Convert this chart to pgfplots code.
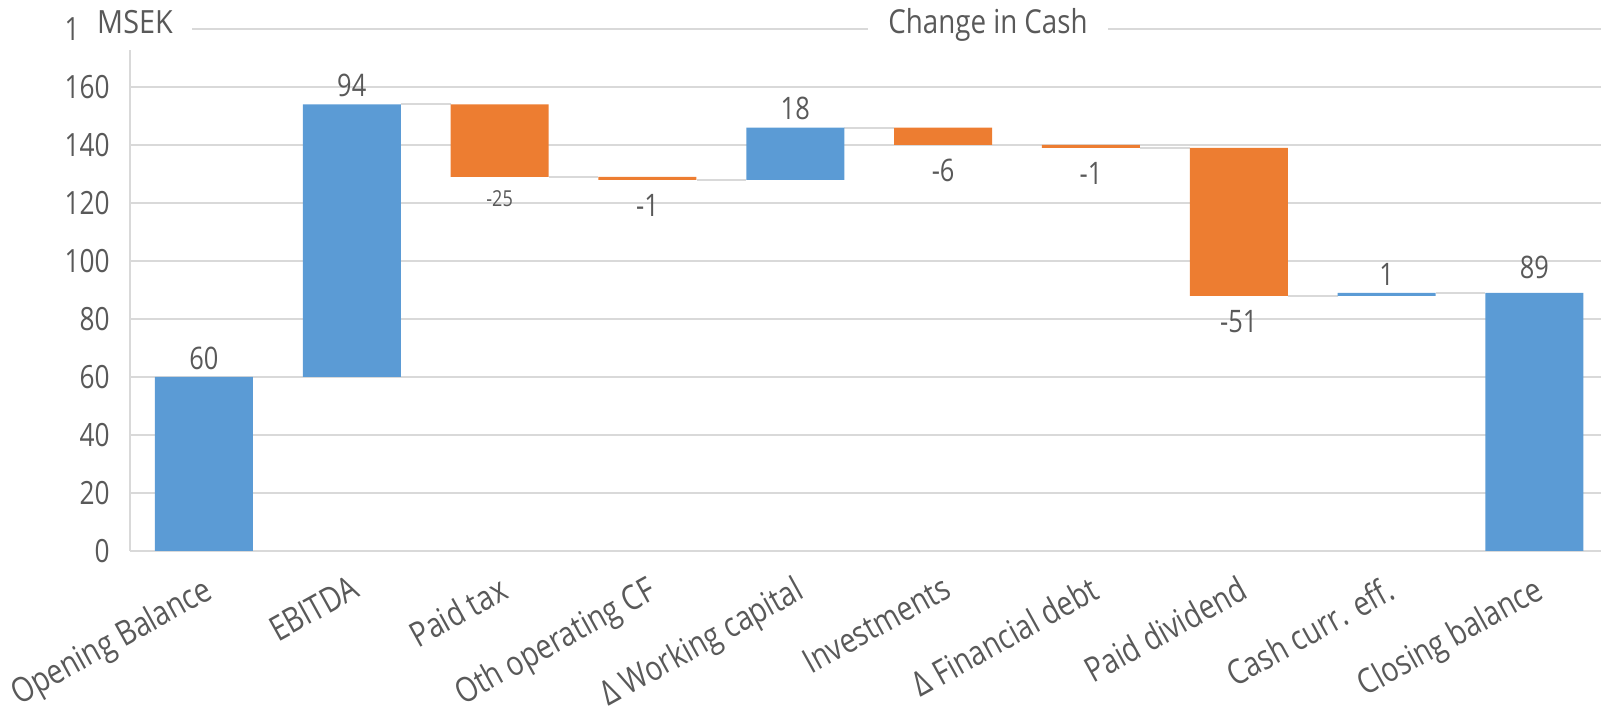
\documentclass[border=0pt]{standalone}
\usepackage{fontspec}
\setmainfont{Open Sans}[FakeStretch=0.82]
\newfontfamily\titlefont{Open Sans}[FakeStretch=0.84]
\newfontfamily\msekfont{Open Sans}[FakeStretch=0.9]
\usepackage{pgfplots}
\usepackage{pgfplotstable}
\pgfplotsset{compat=1.18}
\usetikzlibrary{calc}
\definecolor{cblue}{HTML}{5B9BD5}
\definecolor{corange}{HTML}{ED7D31}
\definecolor{cgrid}{HTML}{D9D9D9}
\definecolor{ctext}{HTML}{595959}

\pgfplotstableread{
x base blue orange
0 0   60 0
1 60  94 0
2 129 0  25
3 128 0  1
4 128 18 0
5 140 0  6
6 139 0  1
7 88  0  51
8 88  1  0
9 0   89 0
}\wfdata

\pgfplotsset{
  common/.style={
    scale only axis, width=735.5pt, height=261pt,
    xmin=-0.5, xmax=9.45, ymin=0, ymax=180,
    at={(0,0)}, anchor=south west,
  }
}

\begin{document}
\begin{tikzpicture}
\begin{axis}[common, name=ax,
  axis x line*=bottom, axis y line*=left,
  axis line style={-, cgrid, line width=1pt},
  ymajorgrids, grid style={cgrid, line width=1pt},
  ytick={0,20,...,180},
  xtick={0,...,9},
  xticklabels={Opening Balance, EBITDA, Paid tax, Oth operating CF, Δ Working capital, Investments, Δ Financial debt, Paid dividend, Cash curr. eff., Closing balance},
  major tick length=0pt,
  ticklabel style={font=\fontsize{16}{19}\selectfont, text=ctext},
  yticklabel style={anchor=east, inner sep=0pt, xshift=-10pt},
  xticklabel style={font=\fontsize{17.2}{20}\selectfont, xshift=-1pt, yshift=-11.5pt, rotate=29, anchor=north east, inner sep=0pt},
  /pgf/number format/assume math mode=true,
  clip=false,
]
% connectors
\addplot[cgrid, line width=1pt, unbounded coords=jump, forget plot] coordinates {
 (0.332,60) (0.668,60) (1,nan)
 (1.332,154) (1.668,154) (2,nan)
 (2.332,129) (2.668,129) (3,nan)
 (3.332,128) (3.668,128) (4,nan)
 (4.332,146) (4.668,146) (5,nan)
 (5.332,140) (5.668,140) (6,nan)
 (6.332,139) (6.668,139) (7,nan)
 (7.332,88) (7.668,88) (8,nan)
 (8.332,89) (8.668,89)
};
% labels above
\addplot[draw=none, nodes near coords, point meta=explicit symbolic,
  nodes near coords style={anchor=south, inner sep=0pt, yshift=3.5pt, font=\fontsize{15.5}{18}\selectfont, text=ctext}]
  table[meta=lab]{
x y lab
0 60 60
1 154 94
4 146 18
8 89 1
};
\addplot[draw=none, nodes near coords, point meta=explicit symbolic,
  nodes near coords style={anchor=south, inner sep=0pt, yshift=7pt, font=\fontsize{15.5}{18}\selectfont, text=ctext}]
  table[meta=lab]{
x y lab
9 89 89
};
% labels below
\addplot[draw=none, nodes near coords, point meta=explicit symbolic,
  nodes near coords style={anchor=north, inner sep=0pt, yshift=-7pt, font=\fontsize{15.5}{18}\selectfont, text=ctext}]
  table[meta=lab]{
x y lab
3 128 -1
5 140 -6
6 139 -1
7 88 -51
};
\addplot[draw=none, nodes near coords, point meta=explicit symbolic,
  nodes near coords style={anchor=north, inner sep=0pt, yshift=-6.5pt, font=\fontsize{11}{13}\selectfont, text=ctext}]
  table[meta=lab]{
x y lab
2 129 -25
};
\end{axis}

\begin{axis}[common, hide axis, ybar stacked, bar width=0.663]
\addplot[fill=none, draw=none] table[x=x, y=base]{\wfdata};
\addplot[fill=cblue, draw=none] table[x=x, y=blue]{\wfdata};
\addplot[fill=corange, draw=none] table[x=x, y=orange]{\wfdata};
\end{axis}

% MSEK box
\fill[white] ($(ax.north west)+(-26pt,14.5pt)$) rectangle ($(ax.north west)+(31pt,-10.5pt)$);
\node[text=ctext, font=\msekfont\fontsize{16}{19}\selectfont, inner sep=0pt] at ($(ax.north west)+(2.5pt,3.5pt)$) {MSEK};
% title
\node[fill=white, text=ctext, font=\titlefont\fontsize{16.5}{19}\selectfont, inner xsep=10pt, inner ysep=2pt] at ($(ax.north west)+(429pt,2pt)$) {Change in Cash};

\pgfresetboundingbox
\path ($(ax.south west)+(-65pt,-82pt)$) rectangle ($(ax.north east)+(0pt,14.5pt)$);
\end{tikzpicture}
\end{document}
